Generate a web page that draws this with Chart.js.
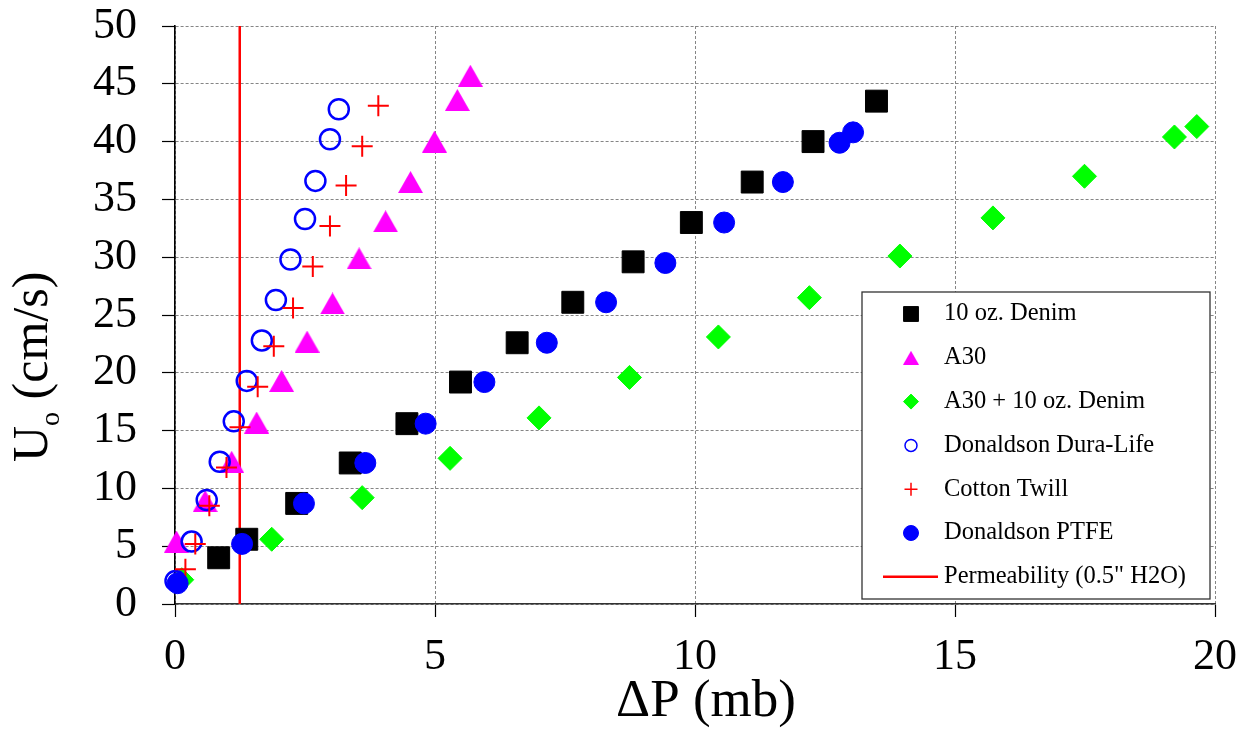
<!DOCTYPE html>
<html>
<head>
<meta charset="utf-8">
<title>Uo vs ΔP</title>
<script src="https://cdn.jsdelivr.net/npm/chart.js@4.4.1/dist/chart.umd.min.js"></script>
<style>
  html, body { margin: 0; padding: 0; background: #fff; }
  #wrap { width: 1251px; height: 729px; }
</style>
</head>
<body>
<div id="wrap"><canvas id="chart" width="1251" height="729"></canvas></div>
<script>
// values (x = dP in mb, y = Uo in cm/s)
const denimX = [0.84, 1.38, 2.34, 3.37, 4.46, 5.49, 6.58, 7.65, 8.81, 9.93, 11.10, 12.27, 13.49];
const denimY = [4.0, 5.6, 8.7, 12.2, 15.6, 19.2, 22.6, 26.1, 29.6, 33.0, 36.5, 40.0, 43.5];

const a30X = [0.03, 0.58, 1.09, 1.57, 2.05, 2.54, 3.03, 3.54, 4.05, 4.53, 4.99, 5.43, 5.68];
const a30Y = [5.4, 8.9, 12.3, 15.7, 19.3, 22.7, 26.0, 29.9, 33.1, 36.5, 40.0, 43.6, 45.7];

const comboX = [0.13, 1.86, 3.60, 5.29, 7.00, 8.74, 10.45, 12.20, 13.94, 15.73, 17.49, 19.22, 19.65];
const comboY = [2.1, 5.6, 9.2, 12.6, 16.1, 19.6, 23.1, 26.5, 30.1, 33.4, 37.0, 40.4, 41.3];

const duraX = [0.01, 0.32, 0.61, 0.86, 1.13, 1.38, 1.67, 1.94, 2.22, 2.50, 2.70, 2.98, 3.15];
const duraY = [2.0, 5.4, 9.0, 12.3, 15.8, 19.3, 22.8, 26.3, 29.8, 33.3, 36.6, 40.2, 42.8];

const cottonX = [0.20, 0.39, 0.66, 0.99, 1.25, 1.59, 1.90, 2.27, 2.65, 2.98, 3.29, 3.60, 3.91];
const cottonY = [3.0, 5.2, 8.5, 11.8, 15.3, 18.8, 22.3, 25.6, 29.2, 32.7, 36.2, 39.6, 43.1];

const ptfeX = [0.05, 1.29, 2.48, 3.66, 4.82, 5.95, 7.15, 8.29, 9.43, 10.56, 11.69, 12.78, 13.04];
const ptfeY = [1.8, 5.2, 8.7, 12.2, 15.6, 19.2, 22.6, 26.1, 29.5, 33.0, 36.5, 39.9, 40.8];

// permeability at 0.5" H2O, drawn as a vertical line
const permX = [1.245, 1.245];
const permY = [0, 50];

const seriesNames = ['10 oz. Denim', 'A30', 'A30 + 10 oz. Denim', 'Donaldson Dura-Life',
                     'Cotton Twill', 'Donaldson PTFE', 'Permeability (0.5" H2O)'];

const xTicks = [0, 5, 10, 15, 20];
const yTicks = [0, 5, 10, 15, 20, 25, 30, 35, 40, 45, 50];

const serif = "'Liberation Serif', 'Times New Roman', serif";

function pts(xs, ys) {
    return xs.map((x, i) => ({ x: x, y: ys[i] }));
}

// triangle centred on its box, like the spreadsheet marker
function makeTriangle(w, h, color) {
    const c = document.createElement('canvas');
    c.width = w;
    c.height = h;
    const g = c.getContext('2d');
    g.fillStyle = color;
    g.beginPath();
    g.moveTo(w / 2, 0);
    g.lineTo(w, h);
    g.lineTo(0, h);
    g.closePath();
    g.fill();
    return c;
}

const triBig = makeTriangle(25, 22, '#ff00ff');
const triSmall = makeTriangle(16, 14, '#ff00ff');

// marker styles: [plot, legend]
const markers = [
    { pointStyle: 'rect', color: '#000000', fill: '#000000', r: [15.5, 10.5], bw: [1, 1] },
    { pointStyle: [triBig, triSmall], color: '#ff00ff', fill: '#ff00ff', r: [12, 8], bw: [0, 0] },
    { pointStyle: 'rectRot', color: '#00ff00', fill: '#00ff00', r: [12, 7.5], bw: [1, 1] },
    { pointStyle: 'circle', color: '#0000ff', fill: 'rgba(0,0,0,0)', r: [10, 6], bw: [2.5, 1.5] },
    { pointStyle: 'cross', color: '#ff0000', fill: 'rgba(0,0,0,0)', r: [10.5, 6.5], bw: [2, 1.5] },
    { pointStyle: 'circle', color: '#0000ff', fill: '#0000ff', r: [10.5, 7.5], bw: [1, 1] }
];

const seriesData = [
    pts(denimX, denimY), pts(a30X, a30Y), pts(comboX, comboY),
    pts(duraX, duraY), pts(cottonX, cottonY), pts(ptfeX, ptfeY)
];

const datasets = seriesData.map((d, i) => {
    const m = markers[i];
    return {
        label: seriesNames[i],
        data: d,
        pointStyle: Array.isArray(m.pointStyle) ? m.pointStyle[0] : m.pointStyle,
        pointRadius: m.r[0],
        pointBorderWidth: m.bw[0],
        pointBorderColor: m.color,
        pointBackgroundColor: m.fill,
        showLine: false,
        clip: false,
        order: 6 - i   // later series sit on top
    };
});

datasets.push({
    label: seriesNames[6],
    data: pts(permX, permY),
    showLine: true,
    borderColor: '#ff0000',
    borderWidth: 2.5,
    pointRadius: 0,
    clip: false,
    order: 10
});

const whiteBg = {
    id: 'whiteBg',
    beforeDraw(chart) {
        const ctx = chart.ctx;
        ctx.save();
        ctx.fillStyle = '#fff';
        ctx.fillRect(0, 0, chart.width, chart.height);
        ctx.restore();
    }
};

// axis titles (the y title needs a subscript o)
const axisTitles = {
    id: 'axisTitles',
    afterDraw(chart) {
        const ctx = chart.ctx;
        const area = chart.chartArea;
        ctx.save();
        ctx.fillStyle = '#000';
        ctx.textAlign = 'center';
        ctx.textBaseline = 'alphabetic';
        ctx.font = `53px ${serif}`;
        ctx.fillText('ΔP (mb)', (area.left + area.right) / 2 + 11, 716);

        ctx.translate(area.left - 128, area.bottom - 142);
        ctx.rotate(-Math.PI / 2);
        ctx.textAlign = 'left';
        ctx.font = `50px ${serif}`;
        ctx.fillText('U', 0, 0);
        let w = ctx.measureText('U').width;
        ctx.font = `28px ${serif}`;
        ctx.fillText('o', w, 12);
        w += ctx.measureText('o').width;
        ctx.font = `50px ${serif}`;
        ctx.fillText(' (cm/s)', w, 0);
        ctx.restore();
    }
};

// boxed legend inside the plot, lower right
const boxLegend = {
    id: 'boxLegend',
    afterDraw(chart) {
        const ctx = chart.ctx;
        const left = 862, top = 292, right = 1210, bottom = 599;
        const rowH = 43.8;
        ctx.save();
        ctx.fillStyle = '#fff';
        ctx.fillRect(left, top, right - left, bottom - top);
        ctx.strokeStyle = '#333';
        ctx.lineWidth = 1.3;
        ctx.strokeRect(left, top, right - left, bottom - top);

        ctx.font = `24.5px ${serif}`;
        ctx.textBaseline = 'middle';
        ctx.textAlign = 'left';
        seriesNames.forEach((name, i) => {
            const y = top + 22 + i * rowH;
            if (i < markers.length) {
                const m = markers[i];
                ctx.fillStyle = m.fill;
                ctx.strokeStyle = m.color;
                ctx.lineWidth = m.bw[1];
                Chart.helpers.drawPoint(ctx, {
                    pointStyle: Array.isArray(m.pointStyle) ? m.pointStyle[1] : m.pointStyle,
                    radius: m.r[1],
                    borderWidth: m.bw[1],
                    rotation: 0
                }, 911, y);
            } else {
                ctx.strokeStyle = '#ff0000';
                ctx.lineWidth = 2.5;
                ctx.beginPath();
                ctx.moveTo(883, y);
                ctx.lineTo(938, y);
                ctx.stroke();
            }
            ctx.fillStyle = '#000';
            ctx.fillText(name, 944, y);
        });
        ctx.restore();
    }
};

// keep the plot box fixed: no extra room added for edge labels
function noEdgePadding(s) {
    s.paddingTop = 0;
    s.paddingBottom = 0;
    s.paddingLeft = 0;
    s.paddingRight = 0;
}

new Chart(document.getElementById('chart'), {
    type: 'scatter',
    data: { datasets: datasets },
    options: {
        responsive: false,
        animation: false,
        events: [],
        layout: { padding: { left: 0, right: 36, top: 26, bottom: 0 } },
        plugins: {
            legend: { display: false },
            tooltip: { enabled: false },
            title: { display: false }
        },
        scales: {
            x: {
                type: 'linear',
                min: xTicks[0],
                max: xTicks[xTicks.length - 1],
                afterBuildTicks: s => { s.ticks = xTicks.map(v => ({ value: v })); },
                ticks: { color: '#000', font: { family: serif, size: 44, lineHeight: 1 }, padding: 18, maxRotation: 0 },
                grid: { color: '#858585', lineWidth: 1, tickColor: '#000', tickLength: 13, tickWidth: 1.2 },
                border: { display: true, color: '#333', width: 1.6, dash: [3, 2] },
                afterFit: s => { s.height = 125; noEdgePadding(s); }
            },
            y: {
                type: 'linear',
                min: yTicks[0],
                max: yTicks[yTicks.length - 1],
                afterBuildTicks: s => { s.ticks = yTicks.map(v => ({ value: v })); },
                ticks: { color: '#000', font: { family: serif, size: 44, lineHeight: 1 }, padding: 25 },
                grid: { color: '#858585', lineWidth: 1, tickColor: '#000', tickLength: 13, tickWidth: 1.2 },
                border: { display: true, color: '#000', width: 1.6, dash: [3, 2] },
                afterFit: s => { s.width = 175; noEdgePadding(s); }
            }
        }
    },
    plugins: [whiteBg, axisTitles, boxLegend]
});
</script>
</body>
</html>
